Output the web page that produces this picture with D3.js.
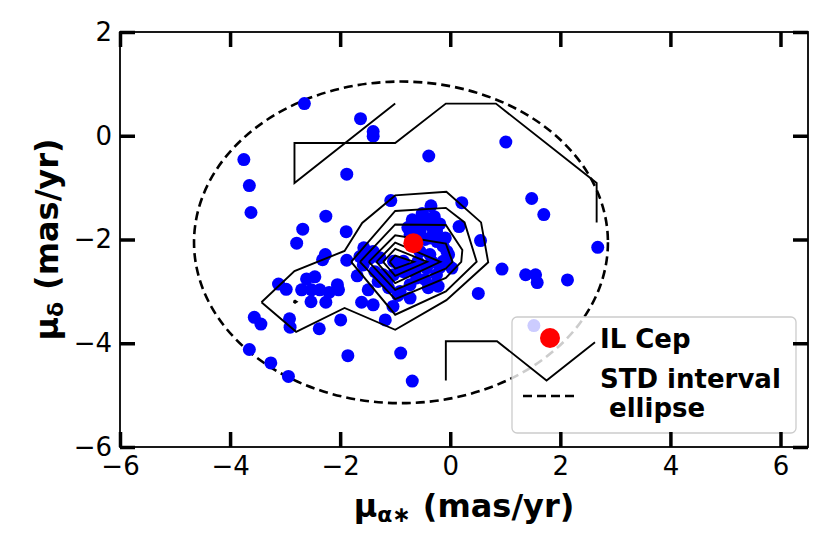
<!DOCTYPE html>
<html>
<head>
<meta charset="utf-8">
<script src="https://cdn.jsdelivr.net/npm/d3@7"></script>
<style>
  body { margin: 0; background: #fff; }
  text { font-family: "DejaVu Sans", sans-serif; }
</style>
</head>
<body>
<svg id="chart" width="830" height="554"></svg>
<script>
// tick values
var xTicks = [-6, -4, -2, 0, 2, 4, 6];
var yTicks = [-6, -4, -2, 0, 2];

// proper motions of the cluster members (mas/yr)
var pmRA = [-2.65, -1.63, -1.40, -1.40, -3.75, -3.65, -3.62, -1.88, -0.39, -1.08,
  -0.35, -2.26, -2.68, -1.89, 1.01, 1.48, 1.70, 0.21, 0.16, 0.55,
  2.68, 0.94, 1.37, 1.55, 1.58, 2.13, 0.51, 1.52, -2.79, -2.27,
  -2.32, -1.88, -3.12, -2.98, -2.61, -2.46, -2.70, -2.52, -2.37, -2.20,
  -2.05, -2.03, -2.53, -2.26, -1.61, -1.40, -3.56, -3.44, -2.92, -2.91,
  -2.38, -1.99, -3.65, -3.26, -2.94, -1.86, -0.90, -0.69, -1.04, -1.18,
  -0.43, -0.61, -0.34, -0.25, -0.73, -0.55, -0.37, -0.13, -0.06, -0.13,
  -0.43, -0.25, -0.28, -0.61, -0.73, -0.91, -1.15, -1.22, -1.03, -0.85,
  -1.40, -1.46, -1.64, -1.58, -1.37, -0.73, -0.91, -1.03, -0.85, -0.55,
  -0.37, -0.03, 0.03, -0.22, -0.46, -1.12, -0.64, -0.52,
  -0.69, -0.51, -0.29, -0.19, -0.77, -0.46, -0.24, -0.09, -0.33, -0.19,
  -0.06, -0.59, -0.73, -0.40, -0.95, -1.31, -1.49, -1.69, -1.57, -1.28];
var pmDec = [0.62, 0.33, 0.08, -0.01, -0.46, -0.96, -1.48, -0.74, -0.39, -1.25,
  -1.35, -1.55, -1.80, -1.85, -0.12, -1.21, -1.52, -1.29, -1.75, -2.02,
  -2.15, -2.57, -2.68, -2.68, -2.83, -2.78, -3.04, -3.66, -2.07, -2.29,
  -2.39, -2.40, -2.86, -2.96, -2.76, -2.72, -2.97, -2.97, -2.97, -3.02,
  -2.87, -2.97, -3.20, -3.21, -3.21, -3.26, -3.50, -3.63, -3.53, -3.69,
  -3.72, -3.55, -4.12, -4.38, -4.64, -4.24, -4.19, -4.73, -3.29, -3.55,
  -1.59, -1.71, -1.75, -1.84, -1.91, -1.84, -1.97, -2.13, -2.23, -2.42,
  -2.55, -2.68, -2.87, -2.74, -2.87, -3.00, -2.81, -2.68, -2.42, -2.42,
  -2.23, -2.36, -2.33, -2.49, -2.62, -3.13, -2.49, -2.68, -2.62, -2.23,
  -2.29, -2.29, -2.55, -2.90, -2.77, -2.93, -2.62, -1.71,
  -1.62, -1.50, -1.56, -1.70, -1.77, -2.00, -2.04, -1.97, -2.43, -2.54,
  -2.43, -2.43, -2.58, -2.93, -3.08, -2.81, -2.97, -2.70, -2.16, -2.35];

// IL Cep
var starRA = [-0.67];
var starDec = [-2.07];

// STD interval ellipse: centre and semi-axes
var ellCentre = [-0.895, -2.055];
var ellAxes = [3.76, 3.10];

// density contours
var contourTop = [[-1.0, 0.62], [-2.83, -0.91], [-2.83, -0.14], [-1.0, -0.14], [-0.08, 0.62],
  [0.83, 0.62], [2.66, -0.91], [2.66, -1.67]];
var contourBottom = [[-0.08, -4.72], [-0.08, -3.96], [0.85, -3.96], [1.75, -4.72], [2.63, -3.98]];
var contourLobe = [[-3.43, -3.21], [-2.83, -2.61], [-1.92, -2.22], [-1.60, -1.68], [-1.0, -1.15],
  [-0.07, -1.08], [0.56, -1.67], [0.69, -2.44], [-0.07, -3.17], [-1.0, -3.74], [-1.92, -3.32],
  [-2.80, -3.78], [-3.43, -3.21]];
var contour3 = [[-1.80, -2.43], [-1.0, -1.45], [-0.08, -1.39], [0.26, -1.67], [0.48, -2.43],
  [-0.08, -3.0], [-1.0, -3.45], [-1.80, -2.43]];
var contour4 = [[-1.64, -2.43], [-1.0, -1.71], [-0.08, -1.72], [0.22, -2.20], [0.20, -2.43],
  [-0.08, -2.74], [-1.0, -3.15], [-1.64, -2.43]];
var contour5 = [[-1.48, -2.43], [-1.0, -1.92], [-0.08, -2.08], [0.04, -2.43], [-0.08, -2.56],
  [-1.0, -2.97], [-1.48, -2.43]];
var contour6 = [[-1.34, -2.43], [-1.0, -2.06], [-0.18, -2.43], [-1.0, -2.84], [-1.34, -2.43]];
var contour7 = [[-1.22, -2.43], [-1.0, -2.18], [-0.42, -2.43], [-1.0, -2.70], [-1.22, -2.43]];
var contour8 = [[-1.10, -2.43], [-1.0, -2.31], [-0.66, -2.43], [-1.0, -2.56], [-1.10, -2.43]];
var contourDot = [[-2.85, -3.20], [-2.82, -3.18], [-2.79, -3.20], [-2.82, -3.22], [-2.85, -3.20]];

var legendLabels = ["IL Cep", "STD interval", " ellipse"];

var margin = {top: 32, right: 22, bottom: 107, left: 120},
    width = 830 - margin.left - margin.right,
    height = 554 - margin.top - margin.bottom;

var x = d3.scaleLinear().domain([-6, 6.5]).range([0, width]);
var y = d3.scaleLinear().domain([-6, 2]).range([height, 0]);

var svg = d3.select("#chart")
    .append("g")
    .attr("transform", "translate(" + margin.left + "," + margin.top + ")");

// ellipse
svg.append("ellipse")
    .attr("cx", x(ellCentre[0]))
    .attr("cy", y(ellCentre[1]))
    .attr("rx", x(ellCentre[0] + ellAxes[0]) - x(ellCentre[0]))
    .attr("ry", y(ellCentre[1]) - y(ellCentre[1] + ellAxes[1]))
    .attr("fill", "none")
    .attr("stroke", "#000")
    .attr("stroke-width", 2.6)
    .attr("stroke-dasharray", "9,5");

// members
svg.append("g").selectAll("circle")
    .data(pmRA)
    .enter().append("circle")
    .attr("cx", function(d) { return x(d); })
    .attr("cy", function(d, i) { return y(pmDec[i]); })
    .attr("r", 6.5)
    .attr("fill", "#0000ff");

// legend box (drawn under the contours, like the original)
var leg = svg.append("g").attr("transform", "translate(" + (512 - margin.left) + "," + (317 - margin.top) + ")");
leg.append("rect")
    .attr("width", 284)
    .attr("height", 116)
    .attr("rx", 5)
    .attr("fill", "#fff")
    .attr("fill-opacity", 0.8)
    .attr("stroke", "#cccccc")
    .attr("stroke-width", 1.3);
leg.append("circle")
    .attr("cx", 38).attr("cy", 21).attr("r", 10)
    .attr("fill", "#ff0000");
leg.append("line")
    .attr("x1", 11).attr("x2", 65).attr("y1", 79).attr("y2", 79)
    .attr("stroke", "#000").attr("stroke-width", 2.6)
    .attr("stroke-dasharray", "9,5");
leg.selectAll("text.lab")
    .data(legendLabels)
    .enter().append("text")
    .attr("class", "lab")
    .attr("x", 88)
    .attr("y", function(d, i) { return [31, 71, 100][i]; })
    .attr("xml:space", "preserve")
    .style("white-space", "pre")
    .attr("font-size", 26)
    .attr("font-weight", "bold")
    .text(function(d) { return d; });

// contours
var line = d3.line()
    .x(function(d) { return x(d[0]); })
    .y(function(d) { return y(d[1]); });

svg.append("g").selectAll("path")
    .data([contourTop, contourBottom, contourLobe, contour3, contour4, contour5,
        contour6, contour7, contour8, contourDot])
    .enter().append("path")
    .attr("d", line)
    .attr("fill", "none")
    .attr("stroke", "#000")
    .attr("stroke-width", 1.9)
    .attr("stroke-linejoin", "miter");

// IL Cep
svg.append("g").selectAll("circle")
    .data(starRA)
    .enter().append("circle")
    .attr("cx", function(d) { return x(d); })
    .attr("cy", function(d, i) { return y(starDec[i]); })
    .attr("r", 10)
    .attr("fill", "#ff0000");

// axes, ticks pointing inwards
function styleAxis(g) {
    g.select(".domain").remove();
    g.selectAll(".tick line").attr("stroke-width", 3.5);
    g.selectAll(".tick text").attr("font-size", 26).attr("fill", "#000");
}

svg.append("g")
    .attr("transform", "translate(0," + height + ")")
    .call(d3.axisBottom(x).tickValues(xTicks).tickSize(-15).tickPadding(10))
    .call(styleAxis);
svg.append("g")
    .call(d3.axisTop(x).tickValues(xTicks).tickSize(-15).tickFormat(""))
    .call(styleAxis);
svg.append("g")
    .call(d3.axisLeft(y).tickValues(yTicks).tickSize(-15).tickPadding(8))
    .call(styleAxis);
svg.append("g")
    .attr("transform", "translate(" + width + ",0)")
    .call(d3.axisRight(y).tickValues(yTicks).tickSize(-15).tickFormat(""))
    .call(styleAxis);

svg.append("rect")
    .attr("width", width)
    .attr("height", height)
    .attr("fill", "none")
    .attr("stroke", "#000")
    .attr("stroke-width", 1.8);

// axis labels
var xl = svg.append("text")
    .attr("x", width / 2)
    .attr("y", 517 - margin.top)
    .attr("text-anchor", "middle")
    .attr("font-size", 32)
    .attr("font-weight", "bold");
xl.append("tspan").text("μ");
xl.append("tspan").attr("font-size", 22).attr("dy", 5).text("α∗");
xl.append("tspan").attr("dy", -5).attr("dx", 12).text("(mas/yr)");

var yl = svg.append("text")
    .attr("transform", "translate(" + (58 - margin.left) + "," + (height / 2) + ") rotate(-90)")
    .attr("text-anchor", "middle")
    .attr("font-size", 32)
    .attr("font-weight", "bold");
yl.append("tspan").text("μ");
yl.append("tspan").attr("font-size", 22).attr("dy", 5).text("δ");
yl.append("tspan").attr("dy", -5).attr("dx", 12).text("(mas/yr)");
</script>
</body>
</html>
